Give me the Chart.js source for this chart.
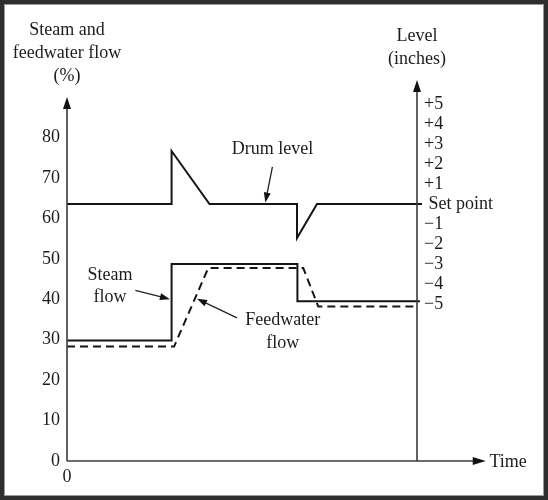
<!DOCTYPE html>
<html>
<head>
<meta charset="utf-8">
<script src="https://cdn.jsdelivr.net/npm/chart.js@4"></script>
<style>
  html, body { margin: 0; padding: 0; background: #fff; }
  #wrap { width: 548px; height: 500px; }
</style>
</head>
<body>
<div id="wrap"><canvas id="myChart"></canvas></div>
<script>
// time is in arbitrary units, the level axis stands at t = 84
const timeTicks = [0];
const flowTicks = [0, 10, 20, 30, 40, 50, 60, 70, 80];
const levelTicks = [5, 4, 3, 2, 1, 0, -1, -2, -3, -4, -5];
const levelLabels = ['+5', '+4', '+3', '+2', '+1', ' Set point', '\u22121', '\u22122', '\u22123', '\u22124', '\u22125'];

// drum level in inches (right axis)
const drumTime = [0, 25.1, 25.1, 34.2, 55.2, 55.2, 60.0, 85.2];
const drumLevel = [0, 0, 2.65, 0, 0, -1.7, 0, 0];

// flows in % (left axis)
const steamTime = [0, 25.1, 25.1, 55.3, 55.3, 84.7];
const steamFlow = [29.8, 29.8, 48.7, 48.7, 39.5, 39.5];

const feedTime = [0, 25.7, 33.9, 56.7, 60.3, 83.5];
const feedFlow = [28.3, 28.3, 47.7, 47.7, 38.2, 38.2];

const FONT = 'Liberation Serif';
const INK = '#1c1c1c';

function pts(xs, ys) {
  return xs.map((x, i) => ({x: x, y: ys[i]}));
}

function arrow(c, x1, y1, x2, y2, len, half) {
  const a = Math.atan2(y2 - y1, x2 - x1);
  c.beginPath();
  c.moveTo(x1, y1);
  c.lineTo(x2 - Math.cos(a) * len * 0.6, y2 - Math.sin(a) * len * 0.6);
  c.stroke();
  c.beginPath();
  c.moveTo(x2, y2);
  c.lineTo(x2 - Math.cos(a) * len - Math.sin(a) * half, y2 - Math.sin(a) * len + Math.cos(a) * half);
  c.lineTo(x2 - Math.cos(a) * len + Math.sin(a) * half, y2 - Math.sin(a) * len - Math.cos(a) * half);
  c.closePath();
  c.fill();
}

const decor = {
  id: 'decor',
  beforeDraw(chart) {
    const c = chart.ctx;
    c.save();
    c.fillStyle = '#fff';
    c.fillRect(0, 0, chart.width, chart.height);
    c.restore();
  },
  afterDraw(chart) {
    const c = chart.ctx;
    const sx = chart.scales.x, sy = chart.scales.y, s2 = chart.scales.y2;
    const px = v => sx.getPixelForValue(v);
    const py = v => sy.getPixelForValue(v);
    const x0 = px(0), y0 = py(0), xr = px(84);
    c.save();
    c.strokeStyle = '#3a3a3a';
    c.fillStyle = '#111';
    c.lineWidth = 1.6;
    // axes
    arrow(c, x0, y0, x0, py(90), 12, 4);
    arrow(c, xr, y0, xr, s2.getPixelForValue(6.2), 12, 4);
    arrow(c, x0, y0, px(100.5), y0, 13, 4);

    // axis titles
    c.fillStyle = INK;
    c.font = '18px "' + FONT + '"';
    c.textAlign = 'center';
    c.textBaseline = 'middle';
    c.fillText('Steam and', x0, 30);
    c.fillText('feedwater flow', x0, 53);
    c.fillText('(%)', x0, 76);
    c.fillText('Level', xr, 36);
    c.fillText('(inches)', xr, 59);
    c.textAlign = 'left';
    c.fillText('Time', px(101.4), y0 + 1);

    // annotations
    c.textAlign = 'center';
    c.fillText('Drum level', px(49.3), py(77));
    c.fillText('Steam', px(10.3), py(46.0));
    c.fillText('flow', px(10.3), py(40.5));
    c.fillText('Feedwater', px(51.8), py(34.8));
    c.fillText('flow', px(51.8), py(29.1));
    c.strokeStyle = '#222';
    c.fillStyle = '#111';
    c.lineWidth = 1.3;
    arrow(c, px(49.3), py(72.7), px(47.6), py(63.9), 10, 3.5);
    arrow(c, px(16.4), py(42.2), px(24.7), py(40.0), 10, 3.5);
    arrow(c, px(40.8), py(35.4), px(31.2), py(40.1), 10, 3.5);

    // picture frame
    c.strokeStyle = '#2e2e2e';
    c.lineWidth = 5;
    c.strokeRect(1.5, 1.5, chart.width - 3, chart.height - 3);
    c.strokeStyle = '#9a9a9a';
    c.lineWidth = 1;
    c.strokeRect(4.5, 4.5, chart.width - 9, chart.height - 9);
    c.restore();
  }
};

const tickFont = {family: FONT, size: 18};

const ctx = document.getElementById('myChart').getContext('2d');

var chartsData = {
  type: 'line',
  data: {
    datasets: [{
      label: 'Drum level',
      data: pts(drumTime, drumLevel),
      yAxisID: 'y2',
      borderColor: '#151515',
      borderWidth: 2,
      pointRadius: 0,
      tension: 0,
      clip: false
    }, {
      label: 'Steam flow',
      data: pts(steamTime, steamFlow),
      yAxisID: 'y',
      borderColor: '#151515',
      borderWidth: 2,
      pointRadius: 0,
      tension: 0,
      clip: false
    }, {
      label: 'Feedwater flow',
      data: pts(feedTime, feedFlow),
      yAxisID: 'y',
      borderColor: '#151515',
      borderWidth: 2,
      borderDash: [8, 5],
      pointRadius: 0,
      tension: 0,
      clip: false
    }]
  },
  options: {
    responsive: true,
    maintainAspectRatio: false,
    animation: false,
    events: [],
    layout: {padding: {top: 97, left: 0, right: 0, bottom: 0}},
    plugins: {legend: {display: false}, tooltip: {enabled: false}},
    scales: {
      x: {
        type: 'linear',
        min: 0,
        max: 84,
        grid: {display: false, drawTicks: false},
        border: {display: false},
        afterBuildTicks: s => { s.ticks = timeTicks.map(v => ({value: v})); },
        afterFit: s => { s.height = 39; },
        ticks: {font: tickFont, color: INK, padding: 5, maxRotation: 0}
      },
      y: {
        position: 'left',
        min: 0,
        max: 90,
        grid: {display: false, drawTicks: false},
        border: {display: false},
        afterBuildTicks: s => { s.ticks = flowTicks.map(v => ({value: v})); },
        afterFit: s => { s.width = 67; },
        ticks: {font: tickFont, color: INK, padding: 7}
      },
      y2: {
        position: 'right',
        min: -12.85,
        max: 5.35,
        grid: {display: false, drawTicks: false},
        border: {display: false},
        afterBuildTicks: s => { s.ticks = levelTicks.map(v => ({value: v})); },
        afterFit: s => { s.width = 131; },
        ticks: {
          font: tickFont,
          color: INK,
          padding: 7,
          callback: v => levelLabels[levelTicks.indexOf(v)]
        }
      }
    }
  },
  plugins: [decor]
};

const myChart = new Chart(ctx, chartsData);
</script>
</body>
</html>
